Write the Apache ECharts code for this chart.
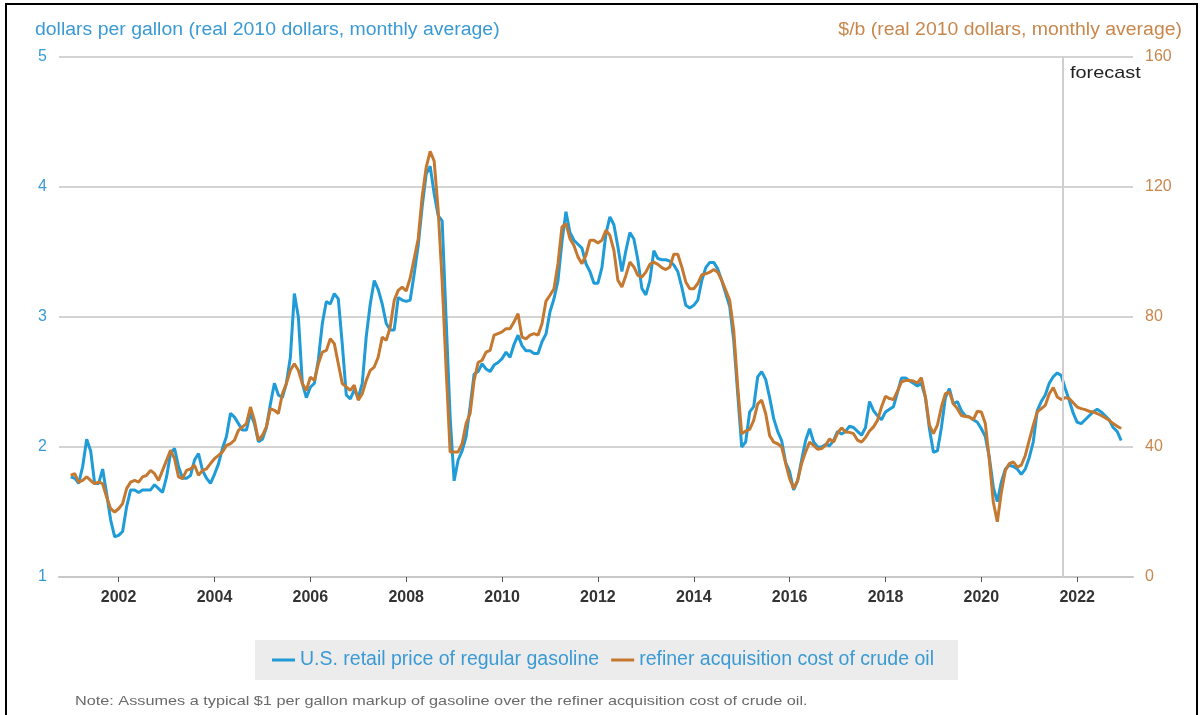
<!DOCTYPE html>
<html>
<head>
<meta charset="utf-8">
<script src="https://cdn.jsdelivr.net/npm/echarts@6/dist/echarts.min.js"></script>
<style>
html, body { margin: 0; padding: 0; background: #fff; }
#priceChart { width: 1201px; height: 715px; }
</style>
</head>
<body>
<div id="priceChart"></div>
<script>
// monthly values, Jan 2001 .. Dec 2022
var startYear = 2001;
var gasoline = [
  1.77, 1.76, 1.72, 1.85, 2.06, 1.97, 1.72, 1.72, 1.83, 1.64, 1.44, 1.31,
  1.32, 1.35, 1.54, 1.67, 1.67, 1.65, 1.67, 1.67, 1.67, 1.71, 1.68, 1.65,
  1.77, 1.95, 1.99, 1.85, 1.76, 1.76, 1.78, 1.90, 1.95, 1.82, 1.76, 1.72,
  1.79, 1.87, 1.99, 2.08, 2.26, 2.23, 2.18, 2.13, 2.13, 2.26, 2.18, 2.04,
  2.06, 2.15, 2.33, 2.49, 2.40, 2.38, 2.49, 2.69, 3.18, 3.00, 2.49, 2.38,
  2.46, 2.49, 2.67, 2.95, 3.12, 3.10, 3.18, 3.14, 2.79, 2.40, 2.37, 2.44,
  2.38, 2.49, 2.85, 3.10, 3.28, 3.21, 3.10, 2.95, 2.90, 2.90, 3.15, 3.13,
  3.12, 3.13, 3.33, 3.55, 3.85, 4.10, 4.16, 3.95, 3.78, 3.74, 2.98, 2.23,
  1.74, 1.90, 1.97, 2.08, 2.31, 2.56, 2.58, 2.64, 2.60, 2.58, 2.63, 2.65,
  2.68, 2.73, 2.69, 2.79, 2.86, 2.78, 2.74, 2.74, 2.72, 2.72, 2.81, 2.87,
  3.04, 3.14, 3.28, 3.58, 3.81, 3.65, 3.59, 3.56, 3.53, 3.41, 3.35, 3.26,
  3.26, 3.38, 3.64, 3.77, 3.71, 3.54, 3.35, 3.51, 3.65, 3.60, 3.44, 3.22,
  3.17, 3.28, 3.51, 3.45, 3.44, 3.44, 3.43, 3.40, 3.35, 3.23, 3.09, 3.07,
  3.09, 3.13, 3.28, 3.38, 3.42, 3.42, 3.37, 3.28, 3.18, 3.08, 2.82, 2.41,
  2.00, 2.04, 2.27, 2.31, 2.54, 2.58, 2.52, 2.38, 2.22, 2.12, 2.05, 1.88,
  1.81, 1.67, 1.74, 1.90, 2.05, 2.14, 2.04, 2.00, 2.00, 2.02, 2.01, 2.05,
  2.12, 2.10, 2.12, 2.16, 2.15, 2.12, 2.09, 2.15, 2.35, 2.28, 2.24, 2.21,
  2.27, 2.29, 2.31, 2.42, 2.53, 2.53, 2.51, 2.49, 2.47, 2.49, 2.38, 2.14,
  1.96, 1.97, 2.15, 2.38, 2.45, 2.33, 2.35, 2.28, 2.24, 2.23, 2.21, 2.19,
  2.14, 2.08, 1.92, 1.69, 1.58, 1.73, 1.83, 1.86, 1.85, 1.83, 1.79, 1.83,
  1.92, 2.04, 2.28, 2.35, 2.40, 2.49, 2.54, 2.57, 2.55, 2.45, 2.36, 2.26,
  2.19, 2.18, 2.21, 2.24, 2.27, 2.29, 2.27, 2.24, 2.21, 2.15, 2.12, 2.05
];
var crude = [
  31.3, 31.8, 29.2, 29.7, 30.8, 29.7, 28.7, 29.2, 28.7, 24.6, 21.0, 20.0,
  21.0, 22.6, 27.2, 29.2, 29.7, 29.2, 30.8, 31.3, 32.8, 31.8, 29.7, 32.8,
  35.9, 39.0, 36.4, 30.8, 30.3, 32.8, 33.3, 34.4, 31.3, 32.8, 33.3, 34.9,
  36.4, 37.4, 38.5, 40.5, 41.0, 42.1, 45.1, 46.2, 47.2, 52.3, 48.2, 42.1,
  43.6, 46.2, 51.8, 51.3, 50.3, 56.4, 59.5, 63.6, 65.6, 63.6, 59.5, 57.4,
  61.5, 60.5, 65.6, 69.2, 69.7, 73.3, 71.8, 65.6, 59.5, 58.5, 57.4, 59.0,
  54.4, 56.4, 60.5, 63.6, 64.6, 67.7, 73.8, 72.8, 76.9, 85.1, 88.2, 89.2,
  88.0, 92.0, 98.0, 104.0, 117.0, 126.0, 131.0, 128.0, 113.0, 91.0, 64.0, 38.5,
  38.5, 38.5, 41.0, 47.2, 50.3, 60.5, 66.0, 66.7, 69.2, 69.7, 74.4, 74.9,
  75.4, 76.4, 76.4, 78.5, 81.0, 73.8, 73.3, 74.4, 74.9, 74.4, 77.9, 84.9,
  86.7, 88.7, 96.4, 107.7, 108.7, 104.1, 102.0, 98.5, 96.4, 99.0, 103.6, 103.6,
  102.8, 103.6, 106.7, 105.1, 100.5, 91.3, 89.2, 92.8, 96.9, 95.4, 92.8, 92.3,
  93.8, 96.2, 96.9, 96.2, 95.2, 94.6, 95.4, 99.3, 99.3, 95.4, 90.8, 88.7,
  88.7, 90.3, 93.0, 93.3, 93.8, 94.6, 93.8, 91.3, 88.2, 85.1, 75.9, 58.5,
  44.1, 44.9, 45.4, 48.2, 53.3, 54.4, 50.3, 43.5, 41.5, 41.0, 40.0, 35.0,
  30.3, 27.2, 29.7, 34.9, 38.5, 41.5, 40.5, 39.3, 39.5, 40.5, 42.5, 41.5,
  44.3, 45.9, 44.6, 44.5, 44.1, 42.1, 41.5, 42.9, 44.9, 46.2, 48.2, 52.3,
  55.6, 54.9, 54.6, 57.2, 60.0, 60.5, 60.5, 60.3, 59.7, 61.3, 55.4, 46.7,
  44.1, 46.7, 52.3, 56.4, 56.9, 53.3, 51.8, 49.7, 49.4, 49.2, 48.4, 51.0,
  50.8, 47.2, 36.0, 23.0, 17.0, 26.0, 32.8, 34.9, 35.4, 33.8, 34.4, 37.4,
  42.1, 46.7, 50.8, 51.8, 52.8, 56.4, 58.3, 55.4, 54.6, 55.2, 54.9, 53.6,
  52.3, 51.8, 51.5, 51.0, 50.8, 50.3, 49.7, 49.0, 48.2, 47.2, 46.4, 45.7
];
var yearTicks = [2002, 2004, 2006, 2008, 2010, 2012, 2014, 2016, 2018, 2020, 2022];
var forecastStart = 2021.7;
var seriesNames = ['U.S. retail price of regular gasoline', 'refiner acquisition cost of crude oil'];

var blue = '#1f9bd7';
var orange = '#c5782f';
var fontFam = 'Arial, "Liberation Sans", sans-serif';

function toPairs(values) {
  return values.map(function (v, i) {
    return [startYear + i / 12, v];
  });
}

priceChart('priceChart');

function priceChart(id) {
  var chart = echarts.init(document.getElementById(id));
  var option = {
    backgroundColor: '#fff',
    animation: false,
    grid: { left: 59, right: 68, top: 57, bottom: 138 },
    legend: {
      left: 255,
      top: 640,
      padding: [10, 24, 10, 17],
      backgroundColor: '#ececec',
      itemGap: 12,
      icon: 'rect',
      itemWidth: 23,
      itemHeight: 3,
      textStyle: { color: '#3a9ad4', fontSize: 19.5, fontFamily: fontFam },
      data: seriesNames
    },
    xAxis: {
      type: 'value',
      min: 2000.756,
      max: 2023.164,
      splitLine: { show: false },
      axisLine: { lineStyle: { color: '#c8c8c8', width: 2 } },
      axisTick: { customValues: yearTicks, length: 5, lineStyle: { color: '#555' } },
      axisLabel: {
        customValues: yearTicks,
        color: '#333',
        fontWeight: 'bold',
        fontSize: 16,
        fontFamily: fontFam,
        margin: 13,
        formatter: function (v) { return String(Math.round(v)); }
      }
    },
    yAxis: [
      {
        type: 'value',
        min: 1,
        max: 5,
        interval: 1,
        axisLine: { show: false },
        axisTick: { show: false },
        splitLine: { lineStyle: { color: '#d4d4d4', width: 2 } },
        axisLabel: { color: '#3a9ad4', fontSize: 16, fontFamily: fontFam, margin: 12 }
      },
      {
        type: 'value',
        min: 0,
        max: 160,
        interval: 40,
        axisLine: { show: false },
        axisTick: { show: false },
        splitLine: { show: false },
        axisLabel: { color: '#c8874c', fontSize: 16, fontFamily: fontFam, margin: 12 }
      }
    ],
    graphic: [
      { type: 'rect', shape: { x: 6, y: 4, width: 1191, height: 720 },
        style: { fill: 'none', stroke: '#000', lineWidth: 2 }, silent: true },
      { type: 'text', x: 35, y: 30, scaleX: 1.08,
        style: { text: 'dollars per gallon (real 2010 dollars, monthly average)', fill: '#3a9ad4',
                 font: '18px ' + fontFam, textAlign: 'left', textVerticalAlign: 'middle' } },
      { type: 'text', x: 1182, y: 30, scaleX: 1.08,
        style: { text: '$/b (real 2010 dollars, monthly average)', fill: '#c8874c',
                 font: '18px ' + fontFam, textAlign: 'right', textVerticalAlign: 'middle' } },
      { type: 'text', x: 1070, y: 73, scaleX: 1.17,
        style: { text: 'forecast', fill: '#222', font: '17px ' + fontFam,
                 textAlign: 'left', textVerticalAlign: 'middle' } },
      { type: 'text', x: 75, y: 701, scaleX: 1.25,
        style: { text: 'Note: Assumes a typical $1 per gallon markup of gasoline over the refiner acquisition cost of crude oil.',
                 fill: '#6a6a6a', font: '13px ' + fontFam, textAlign: 'left', textVerticalAlign: 'middle' } }
    ],
    series: [
      {
        name: seriesNames[0],
        type: 'line',
        yAxisIndex: 0,
        showSymbol: false,
        lineStyle: { color: blue, width: 3 },
        itemStyle: { color: blue },
        data: toPairs(gasoline),
        markLine: {
          silent: true,
          symbol: 'none',
          label: { show: false },
          lineStyle: { color: '#cfcfcf', width: 2, type: 'solid' },
          data: [{ xAxis: forecastStart }]
        }
      },
      {
        name: seriesNames[1],
        type: 'line',
        yAxisIndex: 1,
        showSymbol: false,
        lineStyle: { color: orange, width: 3 },
        itemStyle: { color: orange },
        data: toPairs(crude)
      }
    ]
  };
  chart.setOption(option);
}
</script>
</body>
</html>
